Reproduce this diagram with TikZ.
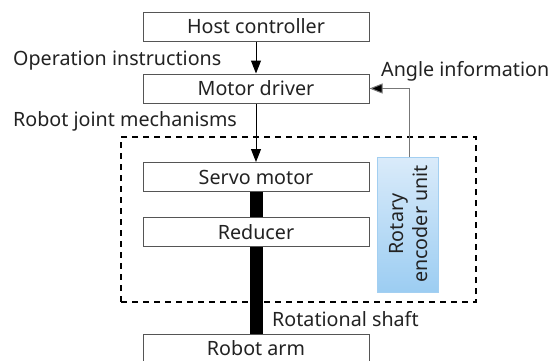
\documentclass[tikz,border=0pt]{standalone}
\usepackage{fontspec}
\setmainfont{Noto Sans}
\usetikzlibrary{arrows.meta}
\definecolor{boxline}{HTML}{555555}
\definecolor{txt}{HTML}{222222}
\definecolor{enctop}{HTML}{DAEBFA}
\definecolor{encbot}{HTML}{9CCDF2}
\definecolor{encline}{HTML}{A3CFF1}
\definecolor{fbline}{HTML}{777777}
\tikzset{
  x=1pt, y=-1pt,
  every node/.style={font=\fontsize{19.7pt}{24pt}\selectfont, text=txt},
  blockbox/.style={draw=boxline, line width=1pt, fill=white, minimum width=226pt, minimum height=29pt, inner sep=0pt, text height=14pt, text depth=0pt},
  lbl/.style={inner sep=0pt, anchor=base west},
  arr/.style={line width=1pt, draw=black, -{Triangle[length=13pt,width=10pt]}},
  shaft/.style={line width=13pt, draw=black},
  encbox/.style={draw=encline, line width=1pt, top color=enctop, bottom color=encbot, minimum width=61pt, minimum height=135pt, inner sep=0pt},
  groupbox/.style={draw=black, line width=2.7pt, dash pattern=on 6pt off 5pt}
}
\begin{document}
\begin{tikzpicture}
\useasboundingbox (0,0) rectangle (552,360);
\node[groupbox, minimum width=355pt, minimum height=165pt, inner sep=0pt] (grp) at (298.5,219.5) {};
\node[blockbox] (host) at (256,26.5) {Host controller};
\node[blockbox] (motor) at (256,88.5) {Motor driver};
\node[blockbox] (servo) at (256,177) {Servo motor};
\node[blockbox] (red) at (256,232) {Reducer};
\node[blockbox] (arm) at (256,348.5) {Robot arm};
\node[encbox] (enc) at (407.5,224.5) {};
\coordinate (fbstart) at (409,157);
\node[rotate=90, align=center, inner sep=0pt] (enctext) at (409,224) {Rotary\\encoder unit};
\node[lbl] (opi) at (13,65) {Operation instructions};
\node[lbl] (rjm) at (13,126) {Robot joint mechanisms};
\node[lbl] (ang) at (381,76) {Angle information};
\node[lbl] (rsh) at (272,326.5) {Rotational shaft};
\draw[arr] (host) -- (motor);
\draw[arr] (motor) -- (servo);
\draw[shaft] (servo.south) -- (red.north);
\draw[shaft] (red.south) -- (arm.north);
\draw[line width=1pt, draw=fbline, -{Triangle[length=13pt,width=10pt,fill=black]}] (fbstart) |- (motor.east);
\end{tikzpicture}
\end{document}
